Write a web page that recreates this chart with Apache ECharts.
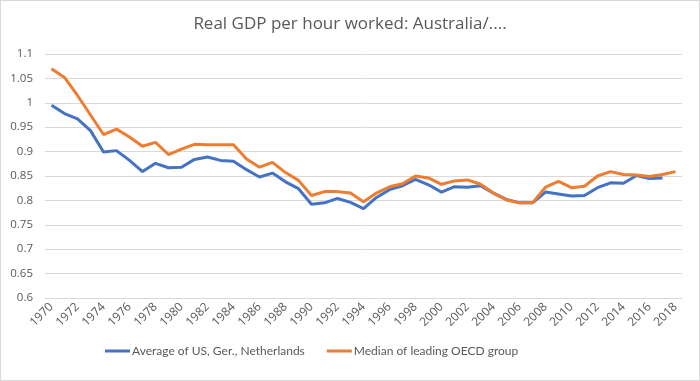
<!DOCTYPE html>
<html><head><meta charset="utf-8">
<script src="https://cdn.jsdelivr.net/npm/echarts@6/dist/echarts.min.js"></script>
<style>html,body{margin:0;padding:0;background:#fff}#c{width:700px;height:381px;box-sizing:border-box;border:1px solid #d9d9d9}</style>
</head><body><div id="c"></div>
<script>
const years = [];
for (let y = 1970; y <= 2018; y++) years.push(String(y));
const avgUSGerNL = [0.995,0.978,0.967,0.943,0.899,0.902,0.882,0.859,0.876,0.867,0.868,0.884,0.889,0.882,0.880,0.863,0.848,0.856,0.838,0.824,0.792,0.795,0.804,0.796,0.783,0.806,0.822,0.830,0.843,0.832,0.817,0.828,0.827,0.830,0.815,0.802,0.795,0.795,0.817,0.813,0.809,0.810,0.826,0.836,0.835,0.851,0.845,0.846,null];
const medianOECD = [1.070,1.052,1.015,0.975,0.935,0.946,0.930,0.911,0.919,0.894,0.905,0.915,0.914,0.914,0.914,0.885,0.868,0.878,0.857,0.841,0.810,0.818,0.818,0.815,0.797,0.815,0.828,0.834,0.850,0.846,0.833,0.840,0.842,0.833,0.815,0.801,0.795,0.795,0.827,0.839,0.826,0.829,0.850,0.859,0.853,0.852,0.849,0.853,0.859];
const seriesNames = ['Average of US, Ger., Netherlands','Median of leading OECD group'];
const chart = echarts.init(document.getElementById('c'));
const font = 'Open Sans';
chart.setOption({
  animation:false,
  title:{text:'Real GDP per hour worked: Australia/....',left:'center',top:10,textStyle:{fontFamily:font,fontSize:17,fontWeight:'normal',color:'#595959'}},
  grid:{left:44,right:17,top:53,bottom:82,containLabel:false},
  legend:{bottom:18,left:99,itemWidth:25,itemHeight:3,itemGap:22,icon:'rect',
    textStyle:{fontFamily:'Lato',fontSize:12,color:'#595959',padding:[0,0,0,-3]},data:seriesNames},
  xAxis:{type:'category',data:years,boundaryGap:true,
    axisLine:{lineStyle:{color:'#d9d9d9'}},axisTick:{show:false},
    axisLabel:{interval:1,rotate:45,fontFamily:font,fontSize:12,color:'#595959',margin:7}},
  yAxis:{type:'value',min:0.6,max:1.1,interval:0.05,
    axisLine:{show:false},axisTick:{show:false},
    splitLine:{lineStyle:{color:'#d9d9d9',width:1}},
    axisLabel:{fontFamily:font,fontSize:11.5,color:'#595959',margin:12,formatter:v=>String(+v.toFixed(2))}},
  series:[
    {name:seriesNames[0],type:'line',data:avgUSGerNL,symbol:'none',lineStyle:{color:'#4472C4',width:3},itemStyle:{color:'#4472C4'}},
    {name:seriesNames[1],type:'line',data:medianOECD,symbol:'none',lineStyle:{color:'#ED7D31',width:3},itemStyle:{color:'#ED7D31'}}
  ]
});
</script></body></html>
